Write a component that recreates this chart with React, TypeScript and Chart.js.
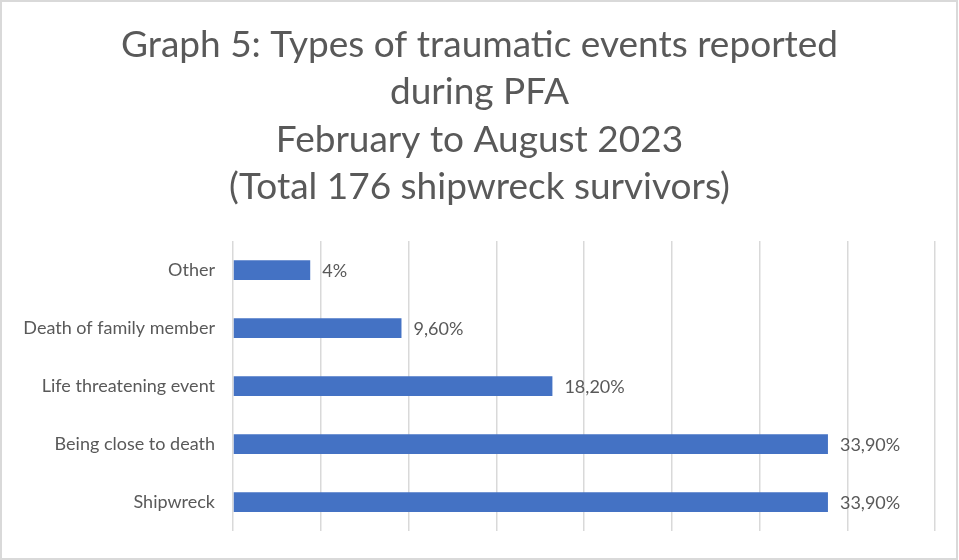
import React, { useEffect, useRef } from "react";
import { Chart, registerables } from "chart.js";

Chart.register(...registerables);

const categories = ["Other", "Death of family member", "Life threatening event", "Being close to death", "Shipwreck"];
const values = [4.4, 9.6, 18.2, 33.9, 33.9];
const valueLabels = ["4%", "9,60%", "18,20%", "33,90%", "33,90%"];
const titleLines = [
  "Graph 5: Types of traumatic events reported",
  "during PFA",
  "February to August 2023",
  "(Total 176 shipwreck survivors)",
];

const FONT = "Lato, 'Open Sans', sans-serif";
const TEXT = "#595959";

export default function App() {
  const ref = useRef<HTMLCanvasElement | null>(null);
  useEffect(() => {
    document.body.style.margin = "0";
    const canvas = ref.current!;
    const labelPlugin = {
      id: "valueLabels",
      afterDatasetsDraw(chart: any) {
        const ctx = chart.ctx;
        const meta = chart.getDatasetMeta(0);
        ctx.save();
        ctx.fillStyle = TEXT;
        ctx.font = `18px ${FONT}`;
        ctx.textBaseline = "middle";
        ctx.textAlign = "left";
        meta.data.forEach((bar: any, i: number) => {
          ctx.fillText(valueLabels[i], bar.x + 12, bar.y + 1);
        });
        ctx.restore();
      },
    };
    const borderPlugin = {
      id: "outerBorder",
      beforeDraw(chart: any) {
        const ctx = chart.ctx;
        ctx.save();
        ctx.fillStyle = "#ffffff";
        ctx.fillRect(0, 0, chart.width, chart.height);
        ctx.strokeStyle = "#d9d9d9";
        ctx.lineWidth = 2;
        ctx.strokeRect(1, 1, chart.width - 3, chart.height - 2);
        ctx.restore();
      },
    };
    const chart = new Chart(canvas, {
      type: "bar",
      data: {
        labels: categories,
        datasets: [
          {
            data: values,
            backgroundColor: "#4472c4",
            barPercentage: 0.34,
            categoryPercentage: 1,
          },
        ],
      },
      options: {
        indexAxis: "y",
        animation: false,
        responsive: false,
        maintainAspectRatio: false,
        layout: { padding: { left: 24, right: 24, top: 0, bottom: 22 } },
        plugins: {
          legend: { display: false },
          tooltip: { enabled: false },
          title: {
            display: true,
            text: titleLines,
            color: TEXT,
            font: { family: FONT, size: 37, weight: "normal", lineHeight: 47.5 / 37 },
            padding: { top: 21, bottom: 30 },
          },
        },
        scales: {
          x: {
            min: 0,
            max: 40,
            ticks: { display: false, stepSize: 5 },
            grid: { color: "#d9d9d9", lineWidth: 1.5, drawTicks: false },
            border: { display: false },
          },
          y: {
            ticks: { color: TEXT, font: { family: FONT, size: 18 }, padding: 18 },
            grid: { display: false, drawTicks: false },
            border: { display: false },
            afterFit(scale: any) {
              scale.width = 209;
            },
          },
        },
      },
      plugins: [borderPlugin, labelPlugin],
    });
    return () => chart.destroy();
  }, []);
  return (
    <div style={{ width: 959, height: 560 }}>
      <canvas ref={ref} width={959} height={560} style={{ display: "block" }} />
    </div>
  );
}
